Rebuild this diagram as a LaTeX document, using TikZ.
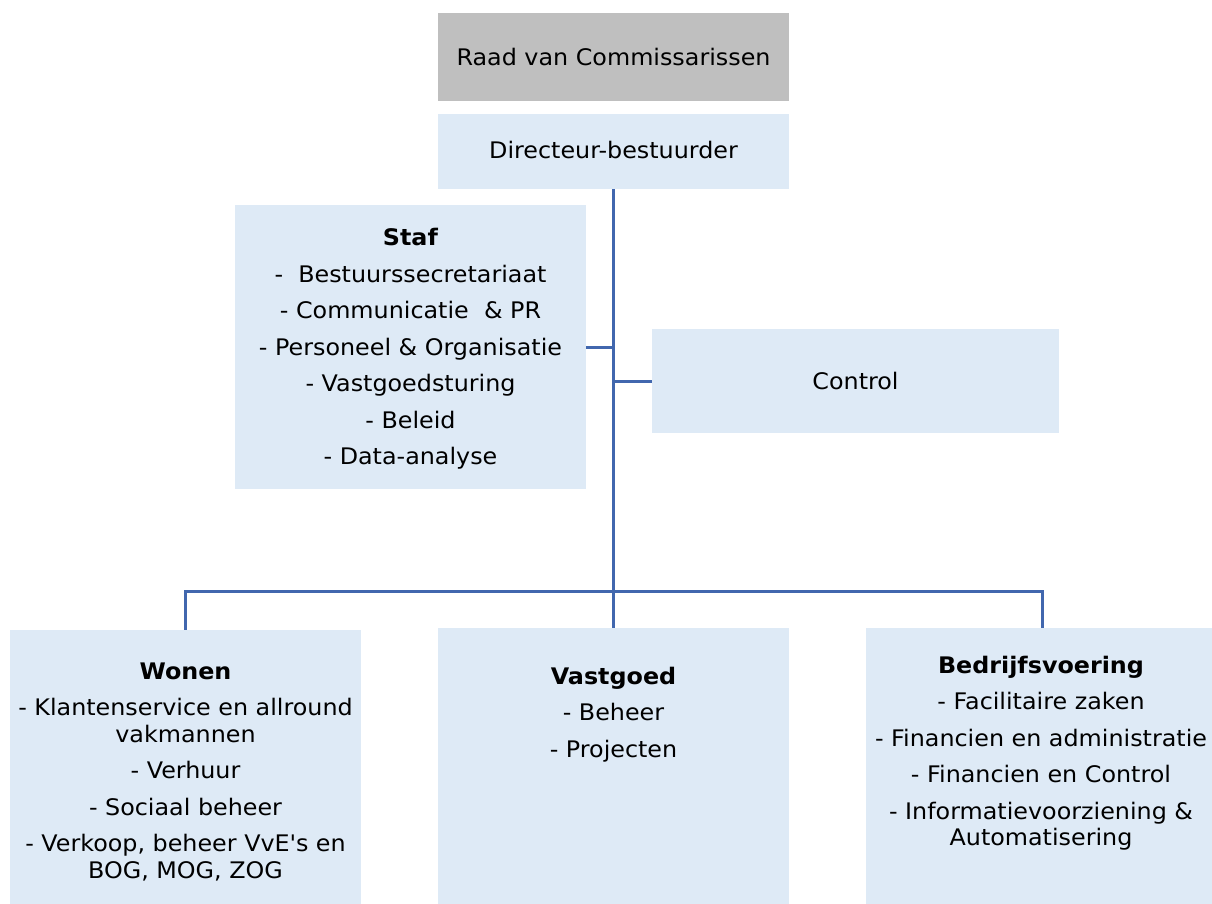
\documentclass[tikz,border=0pt]{standalone}
\usepackage{fontspec}
\setmainfont{DejaVu Sans}[FakeStretch=1.045]
\definecolor{boxblue}{HTML}{DEEAF6}
\definecolor{raadgray}{HTML}{BFBFBF}
\definecolor{linkblue}{HTML}{4167AE}
\newcommand\orgfs{\fontsize{22.8}{26.5}\selectfont}
\begin{document}
\begin{tikzpicture}[x=1pt,y=-1pt,
  box/.style={rectangle,inner sep=0pt,draw=none,fill=boxblue},
  conn/.style={draw=linkblue,line width=3pt},
  txt/.style={align=center,inner sep=0pt,font=\orgfs},
]
\useasboundingbox (0,0) rectangle (1212,904);
% boxes
\node[box,fill=raadgray,minimum width=351pt,minimum height=88pt] (raad) at (613.5,57) {};
\node[box,minimum width=351pt,minimum height=75pt] (dir) at (613.5,151.5) {};
\node[box,minimum width=351pt,minimum height=284pt] (staf) at (410.5,347) {};
\node[box,minimum width=407pt,minimum height=104pt] (ctrl) at (855.5,381) {};
\node[box,minimum width=351pt,minimum height=280pt] (wonen) at (185.5,770) {};
\node[box,minimum width=351pt,minimum height=282pt] (vast) at (613.5,769) {};
\node[box,minimum width=352pt,minimum height=282pt] (bedr) at (1042,769) {};
% texts
\node[txt,anchor=base] (raadT) at (613.5,66) {Raad van Commissarissen};
\node[txt,anchor=base] (dirT) at (613.5,158.5) {Directeur-bestuurder};
\node[txt,anchor=north] (stafT) at (410.5,227.2) {\strut\textbf{Staf}\\[10pt]
  -\ \ Bestuurssecretariaat\\[10pt]
  - Communicatie\ \ \& PR\\[10pt]
  - Personeel \& Organisatie\\[10pt]
  - Vastgoedsturing\\[10pt]
  - Beleid\\[10pt]
  - Data-analyse};
\node[txt,anchor=base] (ctrlT) at (855.5,389.5) {Control};
\node[txt,anchor=north] (wonenT) at (185.5,660.5) {\strut\textbf{Wonen}\\[10pt]
  - Klantenservice en allround\\
  vakmannen\\[10pt]
  - Verhuur\\[10pt]
  - Sociaal beheer\\[10pt]
  - Verkoop, beheer VvE\textquotesingle s en\\
  BOG, MOG, ZOG};
\node[txt,anchor=north] (vastT) at (613.5,665.5) {\strut\textbf{Vastgoed}\\[10pt]
  - Beheer\\[10pt]
  - Projecten};
\node[txt,anchor=north] (bedrT) at (1041,654.5) {\strut\textbf{Bedrijfsvoering}\\[10pt]
  - Facilitaire zaken\\[10pt]
  - Financien en administratie\\[10pt]
  - Financien en Control\\[10pt]
  - Informatievoorziening \&\\
  Automatisering};
% connectors
\coordinate (bus) at (613.5,591);
\draw[conn] (dir.south) -- (bus);
\draw[conn] (staf.east) -- (staf.east -| bus);
\draw[conn] (ctrl.west) -- (ctrl.west -| bus);
\draw[conn] (wonen.north) |- (bus) -| (bedr.north);
\draw[conn] (bus) -- (vast.north);
\end{tikzpicture}
\end{document}
